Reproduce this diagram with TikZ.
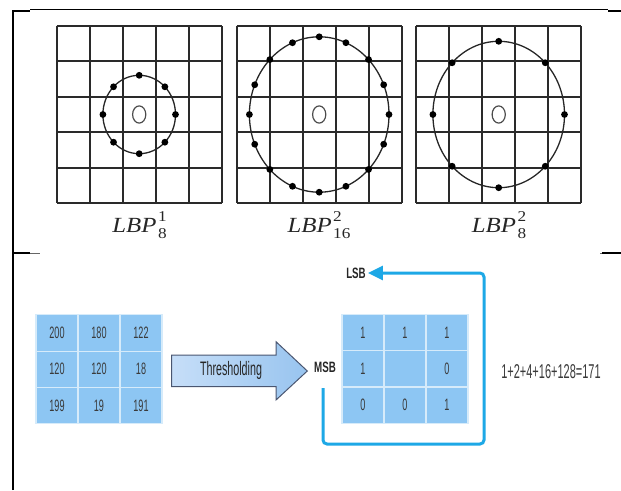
\documentclass[tikz,border=0pt]{standalone}
\usepackage{fontspec}
\usetikzlibrary{arrows.meta}
\newfontfamily\narrowsans[FakeStretch=0.65]{Liberation Sans}
\newfontfamily\condsans[FakeStretch=0.55]{Liberation Sans}
\newfontfamily\labelserif[FakeStretch=1.15]{Liberation Serif}
\definecolor{cellblue}{HTML}{8DC6F3}
\definecolor{cellline}{HTML}{D6EBFA}
\definecolor{loopblue}{HTML}{1DA8E6}
\definecolor{gridline}{HTML}{2A2A2A}
\definecolor{numtext}{HTML}{3A3A3A}
\definecolor{arrowlight}{HTML}{C6DEF8}
\definecolor{arrowdark}{HTML}{98C4EF}
\definecolor{arrowedge}{HTML}{4A5670}
% LBP label: italic name with stacked radius (top) and point count (bottom)
\newcommand\lbpname[2]{{\itshape LBP}\kern1.5pt\makebox[0pt][l]{\raisebox{10.5pt}{\fontsize{15}{15}\selectfont #1}}\raisebox{-6pt}{\fontsize{15}{15}\selectfont #2}}
\begin{document}
\begin{tikzpicture}[x=1pt,y=-1pt,
  gridstroke/.style={draw=gridline,line width=2pt},
  ringline/.style={draw=black!85,line width=1.3pt},
  centerring/.style={draw=black!70,line width=1.2pt},
  dotmark/.style={fill=black},
  framethick/.style={draw=black,line width=2.5pt},
  framethin/.style={draw=black,line width=1pt},
  lbplabel/.style={font=\labelserif\fontsize{21.6}{24}\selectfont,text=black!85,inner sep=0pt,anchor=base},
  cell/.style={rectangle,fill=cellblue,draw=cellline,line width=1.2pt,
    minimum width=42pt,minimum height=36.3pt,inner sep=0pt,
    font=\condsans\fontsize{16.5}{18}\selectfont,text=numtext},
  bitlabel/.style={font=\narrowsans\bfseries\fontsize{15}{17}\selectfont,text=black!85,inner sep=2pt},
  loopline/.style={draw=loopblue,line width=3pt,rounded corners=4pt,
    -{Triangle[length=15pt,width=14pt]}}
]
\useasboundingbox (0,0) rectangle (621,490);

% page frame
\draw[framethick] (13,490) -- (13,11) -- (30,11);
\draw[framethin] (30,9.5) -- (608,9.5);
\draw[framethick] (608,11) -- (621,11);
\draw[framethick] (13,253) -- (30,253);
\draw[draw=black!60,line width=1pt] (30,253) -- (40,253);
\draw[draw=black!60,line width=1pt] (600,253) -- (602,253);
\draw[framethick] (602,253) -- (621,253);

% three 5x5 neighbourhood grids with sampling circles
\foreach \gx/\rx/\ry/\np in {56.7/36.3/39.2/8, 236.7/69.8/77.7/16, 416.2/65.8/73.2/8}{
  \foreach \i in {0,...,5}{
    \draw[gridstroke] ({\gx+33*\i},26) -- ({\gx+33*\i},203);
    \draw[gridstroke] (\gx,{26+35.4*\i}) -- ({\gx+165},{26+35.4*\i});
  }
  \draw[ringline] ({\gx+82.5},114.5) ellipse [x radius=\rx pt, y radius=\ry pt];
  \draw[centerring] ({\gx+82.5},114.5) ellipse [x radius=6.6pt, y radius=8.6pt];
  \pgfmathsetmacro\stepang{360/\np}
  \pgfmathtruncatemacro\last{\np-1}
  \foreach \k in {0,...,\last}{
    \fill[dotmark] ({\gx+82.5+\rx*cos(\k*\stepang)},{114.5+\ry*sin(\k*\stepang)}) circle (3.4pt);
  }
}

\node[lbplabel] (lbpa) at (139.5,232) {\lbpname{1}{8}};
\node[lbplabel] (lbpb) at (319,232) {\lbpname{2}{16}};
\node[lbplabel] (lbpc) at (499,232) {\lbpname{2}{8}};

% input neighbourhood
\foreach \r/\vals in {0/{200,180,122}, 1/{120,120,18}, 2/{199,19,191}}{
  \foreach \v [count=\c from 0] in \vals{
    \node[cell] (in-\r-\c) at ({57+42*\c},{333+36.3*\r}) {\v};
  }
}

% thresholding arrow
\draw[left color=arrowlight,right color=arrowdark,draw=arrowedge,line width=1pt,line join=miter]
  (171.7,355) -- (276,355) -- (276,341.7) -- (307.3,371) -- (276,400) -- (276,386.7) -- (171.7,386.7) -- cycle;
\node[font=\condsans\fontsize{19.5}{21}\selectfont,text=black!85] (thr) at (231,370) {Thresholding};

% binary pattern
\foreach \r/\vals in {0/{1,1,1}, 1/{1,,0}, 2/{0,0,1}}{
  \foreach \v [count=\c from 0] in \vals{
    \node[cell] (bin-\r-\c) at ({363+42*\c},{332.5+36.3*\r}) {\v};
  }
}

\node[bitlabel] (msb) at (325,367) {MSB};
\node[bitlabel] (lsb) at (356,273) {LSB};

% reading order loop from MSB round to LSB
\coordinate (loopstart) at (323,388);
\coordinate (loopright) at (484,444);
\draw[loopline] (loopstart) -- (loopstart |- loopright) -- (loopright) -- (loopright |- lsb.east) -- (lsb.east);

\node[font=\condsans\fontsize{20}{22}\selectfont,text=numtext] (sum) at (551,371.5) {1+2+4+16+128=171};
\end{tikzpicture}
\end{document}
